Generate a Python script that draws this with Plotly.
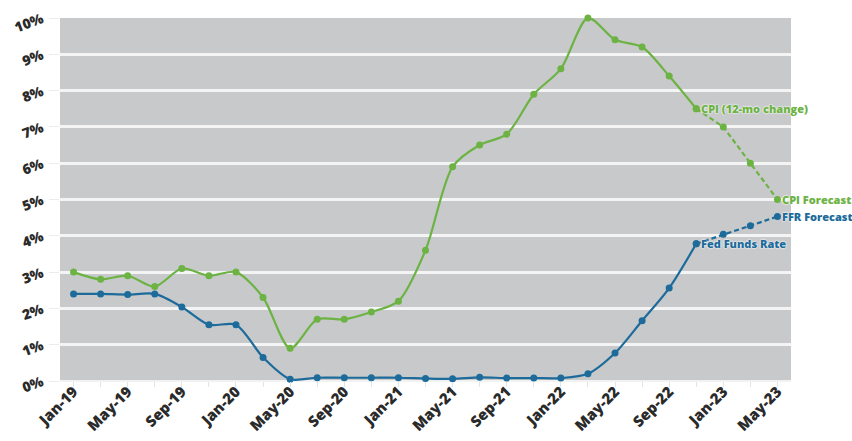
import plotly.graph_objects as go

months = ["Jan-19", "Mar-19", "May-19", "Jul-19", "Sep-19", "Nov-19",
          "Jan-20", "Mar-20", "May-20", "Jul-20", "Sep-20", "Nov-20",
          "Jan-21", "Mar-21", "May-21", "Jul-21", "Sep-21", "Nov-21",
          "Jan-22", "Mar-22", "May-22", "Jul-22", "Sep-22", "Nov-22",
          "Jan-23", "Mar-23", "May-23"]
cpi = [3.0, 2.8, 2.9, 2.6, 3.1, 2.9, 3.0, 2.3, 0.9, 1.7, 1.7, 1.9,
       2.2, 3.6, 5.9, 6.5, 6.8, 7.9, 8.6, 10.0, 9.4, 9.2, 8.4, 7.5,
       7.0, 6.0, 5.0]
ffr = [2.4, 2.4, 2.38, 2.4, 2.04, 1.55, 1.55, 0.65, 0.05, 0.09, 0.09, 0.09,
       0.09, 0.07, 0.06, 0.1, 0.08, 0.08, 0.08, 0.2, 0.77, 1.66, 2.56, 3.78,
       4.04, 4.28, 4.53]
n_actual = 24  # Jan-19 .. Nov-22 actual, rest forecast
y_ticks = list(range(0, 11))
y_ticktext = [f"{v}%" for v in y_ticks]

GREEN = "#6cb344"
BLUE = "#1d6b9b"
TEXT = "#2a2a2a"
BG = "#c7c9ca"

fig = go.Figure()

def add_series(vals, color):
    fig.add_trace(go.Scatter(
        x=months[:n_actual], y=vals[:n_actual], mode="lines+markers",
        line=dict(color=color, width=2.2, shape="spline", smoothing=0.8),
        marker=dict(color=color, size=7), showlegend=False, cliponaxis=False))
    fig.add_trace(go.Scatter(
        x=months[n_actual - 1:], y=vals[n_actual - 1:], mode="lines+markers",
        line=dict(color=color, width=2.2, dash="5px,3px"),
        marker=dict(color=color, size=7), showlegend=False, cliponaxis=False))

add_series(cpi, GREEN)
add_series(ffr, BLUE)

halo = "0px 0px 2px white, 0px 0px 2px white"
labels = [
    (months[n_actual - 1], cpi[n_actual - 1], "CPI (12-mo change)", GREEN),
    (months[-1], cpi[-1], "CPI Forecast", GREEN),
    (months[-1], ffr[-1], "FFR Forecast", BLUE),
    (months[n_actual - 1], ffr[n_actual - 1], "Fed Funds Rate", BLUE),
]
for x, y, t, c in labels:
    fig.add_annotation(x=x, y=y, text=t, showarrow=False,
                       xanchor="left", yanchor="middle", xshift=3,
                       font=dict(family="Open Sans", size=11, color=c,
                                 weight=800, shadow=halo))

fig.update_layout(
    width=852, height=441,
    margin=dict(l=60, r=61, t=18, b=60),
    paper_bgcolor="white", plot_bgcolor=BG,
    font=dict(family="Open Sans", color=TEXT),
    xaxis=dict(
        type="category", range=[-0.5, len(months) - 0.5],
        tickvals=months, automargin=False,
        ticktext=[m if i % 2 == 0 else "" for i, m in enumerate(months)],
        tickangle=-45, tickfont=dict(size=15, color=TEXT, weight=800),
        ticks="outside", ticklen=5, tickcolor="#e4e4e4", tickwidth=1,
        ticklabelstandoff=-10,
        showgrid=False, showline=False, zeroline=False,
    ),
    yaxis=dict(
        range=[0, 10], tickvals=y_ticks, automargin=False,
        ticktext=y_ticktext,
        tickangle=-20, tickfont=dict(size=14, color=TEXT, weight=800),
        ticks="outside", ticklen=10, tickcolor="#ececec", tickwidth=1,
        ticklabelstandoff=4,
        showgrid=True, gridcolor="#f4f4f4", gridwidth=2.5,
        zeroline=True, zerolinecolor="#f2f2f2", zerolinewidth=2,
        showline=False,
    ),
)

fig.write_html("out.html")
